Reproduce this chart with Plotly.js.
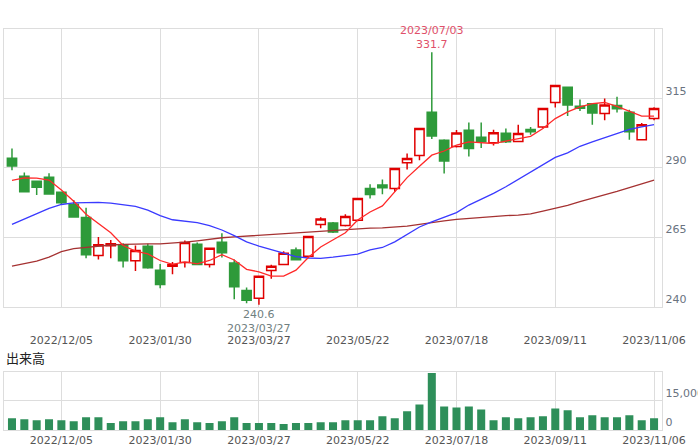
<!DOCTYPE html>
<html>
<head>
<meta charset="utf-8">
<script src="https://cdn.plot.ly/plotly-3.0.1.min.js"></script>
<style>
body { margin: 0; background: #ffffff; }
#chart { width: 698px; height: 448px; }
</style>
</head>
<body>
<div id="chart"></div>
<script>
// weekly candles, first trading day of each week
var weeks = [
    "2022/11/07", "2022/11/14", "2022/11/21", "2022/11/28", "2022/12/05", "2022/12/12", "2022/12/19", "2022/12/26",
    "2023/01/04", "2023/01/10", "2023/01/16", "2023/01/23", "2023/01/30", "2023/02/06", "2023/02/13", "2023/02/20",
    "2023/02/27", "2023/03/06", "2023/03/13", "2023/03/20", "2023/03/27", "2023/04/03", "2023/04/10", "2023/04/17",
    "2023/04/24", "2023/05/01", "2023/05/08", "2023/05/15", "2023/05/22", "2023/05/29", "2023/06/05", "2023/06/12",
    "2023/06/19", "2023/06/26", "2023/07/03", "2023/07/10", "2023/07/18", "2023/07/24", "2023/07/31", "2023/08/07",
    "2023/08/14", "2023/08/21", "2023/08/28", "2023/09/04", "2023/09/11", "2023/09/19", "2023/09/25", "2023/10/02",
    "2023/10/10", "2023/10/16", "2023/10/23", "2023/10/30", "2023/11/06"
];

var opens = [
    293.5, 287.0, 285.2, 286.6, 281.2, 276.9, 272.1, 258.4, 261.9, 262.2, 256.5, 261.7, 253.1, 254.5, 255.9, 262.5,
    255.2, 263.2, 255.7, 245.8, 243.0, 253.0, 255.2, 260.4, 258.1, 269.6, 270.1, 269.2, 271.1, 282.6, 283.8, 282.6,
    291.9, 294.5, 310.1, 300.0, 297.7, 303.6, 301.1, 299.1, 302.5, 299.5, 303.9, 304.8, 313.6, 319.1, 312.2, 313.1,
    309.6, 312.5, 310.1, 300.2, 307.8
];
var highs = [
    297.0, 288.3, 285.3, 288.1, 281.5, 278.4, 275.6, 265.1, 264.0, 262.8, 262.0, 262.6, 255.3, 256.1, 263.8, 263.1,
    261.3, 266.4, 257.0, 246.9, 251.0, 255.1, 259.9, 261.3, 265.5, 272.2, 270.5, 273.3, 279.2, 284.1, 285.8, 290.0,
    295.2, 304.4, 331.7, 300.3, 303.7, 306.4, 306.4, 303.8, 304.2, 305.6, 304.8, 311.7, 319.9, 319.2, 314.7, 313.3,
    315.0, 315.7, 311.0, 306.2, 311.9
];
var lows = [
    289.2, 281.2, 280.2, 280.4, 277.0, 272.0, 257.4, 257.0, 257.4, 254.1, 252.8, 253.6, 246.6, 251.6, 254.1, 254.9,
    254.1, 257.7, 242.6, 241.2, 240.6, 250.0, 255.0, 256.7, 257.8, 268.2, 266.5, 268.9, 270.8, 279.0, 280.5, 281.4,
    289.4, 292.8, 300.4, 288.0, 297.4, 294.1, 297.2, 298.1, 299.0, 299.3, 302.0, 304.3, 311.8, 308.7, 310.5, 305.6,
    307.2, 310.0, 300.2, 299.9, 307.2
];
var closes = [
    290.7, 281.4, 283.0, 280.6, 277.4, 272.3, 258.7, 262.3, 262.6, 256.5, 260.2, 254.0, 247.9, 255.2, 263.1, 255.2,
    261.0, 259.4, 247.1, 242.3, 250.9, 254.5, 259.2, 256.9, 265.3, 271.6, 266.9, 272.5, 279.0, 280.4, 282.8, 289.8,
    293.4, 304.2, 301.5, 292.5, 302.6, 297.0, 299.4, 302.7, 299.4, 302.4, 303.0, 311.4, 319.7, 312.7, 311.5, 309.8,
    312.7, 311.3, 303.0, 305.6, 311.4
];

// moving averages as drawn on the chart
var ma13 = [
    285.5, 286.4, 286.3, 285.6, 282.0, 278.0, 273.3, 270.0, 266.6, 262.0, 260.0, 259.0, 256.6, 255.2, 256.1, 255.4,
    256.6, 258.7, 256.8, 253.4, 252.5, 251.0, 251.0, 253.1, 257.7, 261.5, 264.0, 266.6, 271.2, 274.1, 276.3, 281.4,
    286.5, 290.6, 294.6, 296.1, 298.2, 299.4, 299.0, 298.8, 299.7, 300.6, 301.4, 304.2, 307.8, 310.2, 312.0, 313.2,
    313.6, 312.2, 310.5, 308.7, 308.7
];
var ma26 = [
    269.6, 271.5, 273.3, 275.4, 276.8, 277.4, 277.5, 277.6, 277.3, 276.7, 276.1, 274.8, 272.8, 271.3, 270.9, 270.3,
    269.2, 267.6, 265.6, 263.3, 261.8, 260.5, 259.3, 258.0, 257.5, 257.4, 257.8, 258.4, 258.9, 260.4, 261.3, 263.3,
    266.1, 268.7, 270.5, 272.1, 273.9, 276.6, 278.6, 280.8, 283.2, 285.9, 288.3, 291.0, 293.8, 295.4, 297.8, 299.4,
    300.9, 302.4, 303.9, 304.8, 305.6
];
var ma52 = [
    254.6, 255.6, 256.4, 257.8, 259.8, 260.9, 261.4, 261.8, 262.2, 262.4, 262.6, 262.6, 262.6, 262.8, 263.2, 263.7,
    264.3, 264.8, 265.1, 265.4, 265.8, 266.0, 266.4, 266.6, 266.9, 267.3, 267.6, 267.9, 268.2, 268.3, 268.4, 268.6,
    269.0, 269.6, 270.3, 270.9, 271.4, 271.8, 272.1, 272.5, 272.8, 273.0, 273.4, 274.4, 275.4, 276.5, 277.8, 279.0,
    280.2, 281.5, 282.9, 284.2, 285.6
];

var volumes = [
    6060000, 5560000, 5050000, 5560000, 5050000, 4550000, 6570000, 6570000, 3540000, 4550000, 4550000, 5560000,
    6570000, 4040000, 5560000, 4040000, 3540000, 4550000, 6570000, 3540000, 3540000, 3540000, 3030000, 3540000,
    3540000, 4040000, 4040000, 5050000, 5050000, 5050000, 7070000, 6060000, 9600000, 13100000, 29300000, 12100000,
    11600000, 12100000, 10600000, 5050000, 6570000, 6060000, 6570000, 7070000, 11100000, 10100000, 6570000, 7580000,
    6570000, 6570000, 7580000, 5050000, 6060000
];

var tickDates = ["2022/12/05", "2023/01/30", "2023/03/27", "2023/05/22", "2023/07/18", "2023/09/11", "2023/11/06"];
var priceTicks = [240, 265, 290, 315];
var volumeTicks = [0, 15000000];

var highIndex = 34;
var lowIndex = 20;

class WeeklyChart
{
    static draw(element)
    {
        var gridColor = "#dddddd";
        var tickFont = { family: "DejaVu Sans, sans-serif", size: 11, color: "#555555" };
        var valueFont = { family: "DejaVu Sans, sans-serif", size: 11, color: "#6a7380" };
        var xRange = [-0.62, 52.67];

        var candles =
        {
            type: "candlestick",
            x: weeks,
            open: opens,
            high: highs,
            low: lows,
            close: closes,
            xaxis: "x",
            yaxis: "y",
            increasing: { line: { color: "#e00000", width: 1.5 }, fillcolor: "#ffffff" },
            decreasing: { line: { color: "#2e9a3a", width: 1.5 }, fillcolor: "#2e9a3a" },
            hoverinfo: "skip",
            showlegend: false
        };

        var lineTrace = function (values, color)
        {
            return {
                type: "scatter",
                mode: "lines",
                x: weeks,
                y: values,
                xaxis: "x",
                yaxis: "y",
                line: { color: color, width: 1.3 },
                hoverinfo: "skip",
                showlegend: false
            };
        };

        var volumeTrace =
        {
            type: "bar",
            x: weeks,
            y: volumes,
            xaxis: "x2",
            yaxis: "y2",
            marker: { color: "#2e8f5a" },
            hoverinfo: "skip",
            showlegend: false
        };

        var plotData = [lineTrace(ma52, "#a53232"), lineTrace(ma26, "#3a3aff"), candles, lineTrace(ma13, "#ff2a2a"), volumeTrace];

        var layout =
        {
            width: 698,
            height: 448,
            margin: { l: 0, r: 0, t: 0, b: 0 },
            paper_bgcolor: "#ffffff",
            plot_bgcolor: "#ffffff",
            boxmode: "overlay",
            boxgap: 0.25,
            boxgroupgap: 0,
            bargap: 0.35,
            font: tickFont,
            xaxis:
            {
                domain: [0.0062, 0.9489],
                anchor: "y",
                type: "category",
                range: xRange,
                tickvals: tickDates,
                ticks: "outside",
                ticklen: 23,
                tickcolor: "rgba(0,0,0,0)",
                tickfont: tickFont,
                showgrid: true,
                gridcolor: gridColor,
                showline: true,
                mirror: true,
                linecolor: gridColor,
                rangeslider: { visible: false },
                fixedrange: true
            },
            yaxis:
            {
                domain: [0.3158, 0.9346],
                anchor: "x",
                side: "right",
                range: [240, 340],
                tickvals: priceTicks,
                ticklabelposition: "outside top",
                ticks: "",
                tickfont: valueFont,
                showgrid: true,
                gridcolor: gridColor,
                zeroline: false,
                showline: true,
                mirror: true,
                linecolor: gridColor,
                fixedrange: true
            },
            xaxis2:
            {
                domain: [0.0062, 0.9489],
                anchor: "y2",
                type: "category",
                range: xRange,
                tickvals: tickDates,
                ticks: "",
                tickfont: tickFont,
                showgrid: true,
                gridcolor: gridColor,
                showline: true,
                mirror: true,
                linecolor: gridColor,
                fixedrange: true
            },
            yaxis2:
            {
                domain: [0.0402, 0.1703],
                anchor: "x2",
                side: "right",
                range: [0, 30000000],
                tickvals: volumeTicks,
                tickformat: ",",
                ticklabelposition: "outside top",
                ticks: "",
                tickfont: valueFont,
                showgrid: true,
                gridcolor: gridColor,
                zeroline: false,
                showline: true,
                mirror: true,
                linecolor: gridColor,
                fixedrange: true
            },
            annotations:
            [
                {
                    xref: "x", yref: "y",
                    x: weeks[highIndex], y: highs[highIndex],
                    text: weeks[highIndex] + "<br>" + highs[highIndex].toFixed(1),
                    showarrow: false,
                    yanchor: "bottom",
                    yshift: -1,
                    font: { family: "DejaVu Sans, sans-serif", size: 11, color: "#e0506a" }
                },
                {
                    xref: "x", yref: "y",
                    x: weeks[lowIndex], y: lows[lowIndex],
                    text: lows[lowIndex].toFixed(1) + "<br>" + weeks[lowIndex],
                    showarrow: false,
                    yanchor: "top",
                    yshift: -1,
                    font: { family: "DejaVu Sans, sans-serif", size: 11, color: "#708080" }
                },
                {
                    xref: "paper", yref: "paper",
                    x: 0.006, y: 0.203,
                    xanchor: "left", yanchor: "middle",
                    text: "出来高",
                    showarrow: false,
                    font: { family: "Noto Sans CJK JP, sans-serif", size: 13, color: "#222222" }
                }
            ]
        };

        Plotly.newPlot(element, plotData, layout, { staticPlot: true });
    }
}

WeeklyChart.draw(document.getElementById("chart"));
</script>
</body>
</html>
